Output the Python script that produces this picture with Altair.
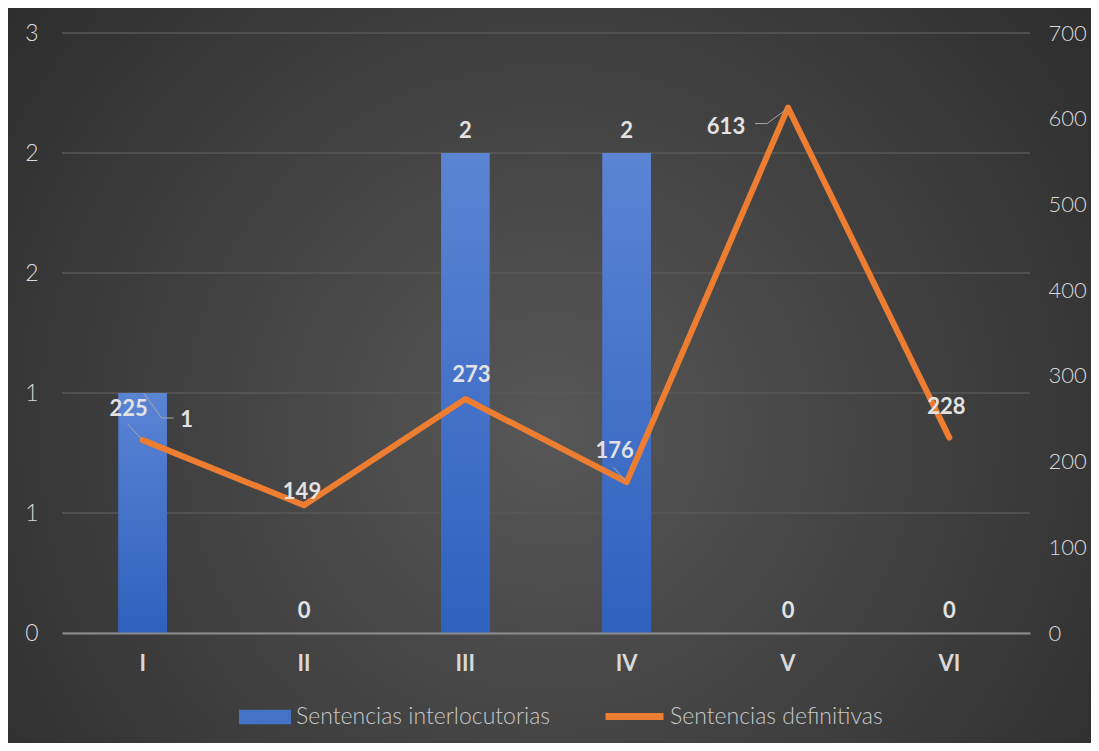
import altair as alt
import pandas as pd

categories = ["I", "II", "III", "IV", "V", "VI"]
interlocutorias = [1, 0, 2, 2, 0, 0]
definitivas = [225, 149, 273, 176, 613, 228]
left_ticks = [0, 0.5, 1, 1.5, 2, 2.5]
right_ticks = [0, 100, 200, 300, 400, 500, 600, 700]
series_names = ["Sentencias interlocutorias", "Sentencias definitivas"]

df = pd.DataFrame({"cat": categories, "bar": interlocutorias, "line": definitivas})
grid_df = pd.DataFrame({"t": left_ticks})

# label placement offsets in pixels (style, not data)
line_label_offsets = {"I": (-14, -24), "II": (-2, -6), "III": (6, -17),
                      "IV": (-12, -24), "V": (-62, 26), "VI": (-3, -24)}
# leader-line segments: (category, series, x1, y1, x2, y2) pixel offsets from the point
leaders = [("I", "line", -15, -16, -1, -1),
           ("IV", "line", -13, -15, -1, -1),
           ("V", "line", -33, 16, -21, 16),
           ("V", "line", -21, 16, -2, 2),
           ("I", "bar", 1, 0, 19, 25),
           ("I", "bar", 19, 25, 31, 25)]

W, H = 968, 600
FONT = "Lato"
BLUE = "#4472C4"
ORANGE = "#ED7D31"
LABEL = "#e2e2e2"
AXLAB = "#d9d9d9"

x_axis = alt.Axis(labelAngle=0, labelFont=FONT, labelFontSize=22,
                  labelFontWeight="bold", labelColor=AXLAB,
                  labelPadding=20, ticks=False, domainColor="#8c8c8c",
                  domainWidth=2, grid=False, zindex=1)
x_scale = alt.Scale(paddingInner=0.7, paddingOuter=0.35)
x_enc = alt.X("cat:N", sort=categories, title=None, scale=x_scale, axis=x_axis)

yb_scale = alt.Scale(domain=[0, 2.5], nice=False)
yb_axis = alt.Axis(orient="left", values=left_ticks,
                   labelExpr="round(datum.value)", grid=False,
                   ticks=False, domain=False, labelFont=FONT,
                   labelFontSize=23, labelFontWeight=300, labelColor=AXLAB,
                   labelPadding=24, title=None, zindex=1)
yb = alt.Y("bar:Q", title=None, scale=yb_scale, axis=yb_axis)

yl_scale = alt.Scale(domain=[0, 700], nice=False)
yl_axis = alt.Axis(orient="right", values=right_ticks, grid=False,
                   ticks=False, domain=False, labelFont=FONT,
                   labelFontSize=22, labelFontWeight=300, labelColor=AXLAB,
                   labelPadding=18, title=None, zindex=1)
yl = alt.Y("line:Q", title=None, scale=yl_scale, axis=yl_axis)

bg = alt.Chart(alt.Data(values=[{"k": 1}])).mark_rect(
    fill=alt.RadialGradient(
        gradient="radial",
        stops=[alt.GradientStop(color="#575757", offset=0),
               alt.GradientStop(color="#3c3c3c", offset=0.55),
               alt.GradientStop(color="#262626", offset=1)],
        x1=0.5, y1=0.55, r1=0, x2=0.5, y2=0.55, r2=0.75)
).encode(x=alt.value(-54), x2=alt.value(W + 61), y=alt.value(-25), y2=alt.value(H + 110))

grid = alt.Chart(grid_df).mark_rule(color="#585858", strokeWidth=1.5).encode(
    y=alt.Y("t:Q", scale=yb_scale, axis=None))

base = alt.Chart(df)

bar_solid = base.transform_calculate(sb="'" + series_names[0] + "'").mark_bar().encode(
    x=x_enc, y=yb,
    fill=alt.Fill("sb:N", scale=alt.Scale(domain=[series_names[0]], range=[BLUE]),
                  legend=alt.Legend(title=None, orient="none", legendX=177, legendY=658,
                                    symbolType="M-1,-0.28L1,-0.28L1,0.28L-1,0.28Z",
                                    symbolSize=2704, symbolStrokeWidth=0,
                                    labelFont=FONT, labelFontSize=23, labelFontWeight=300,
                                    labelLimit=500, labelColor="#c8c8c8", labelOffset=5)))

bar_grad = base.mark_bar(fill=alt.LinearGradient(
    gradient="linear",
    stops=[alt.GradientStop(color="#5b84d3", offset=0),
           alt.GradientStop(color="#2f61bf", offset=1)],
    x1=0, x2=0, y1=0, y2=1)).encode(x=x_enc, y=yb)

bar_text_main = base.transform_filter(alt.datum.cat != "I").mark_text(
    font=FONT, fontSize=22, fontWeight="bold", color=LABEL, baseline="alphabetic",
    dy=-15).encode(x=x_enc, y=yb, text=alt.Text("bar:Q"))
bar_text_first = base.transform_filter(alt.datum.cat == "I").mark_text(
    font=FONT, fontSize=22, fontWeight="bold", color=LABEL, baseline="alphabetic",
    dx=44, dy=34).encode(x=x_enc, y=yb, text=alt.Text("bar:Q"))

def leader_layers(series):
    out = []
    field = "bar" if series == "bar" else "line"
    scale = yb_scale if series == "bar" else yl_scale
    axis = yb_axis if series == "bar" else yl_axis
    for cat, s, ax1, ay1, ax2, ay2 in leaders:
        if s != series:
            continue
        out.append(base.transform_filter(alt.datum.cat == cat).mark_rule(
            color="#a6a6a6", strokeWidth=1,
            xOffset=ax1, yOffset=ay1, x2Offset=ax2, y2Offset=ay2).encode(
            x=alt.X("cat:N", sort=categories, title=None, scale=x_scale, axis=x_axis,
                    bandPosition=0.5),
            x2=alt.X2("cat", bandPosition=0.5),
            y=alt.Y(field + ":Q", title=None, scale=scale, axis=axis),
            y2=alt.Y2(field)))
    return out

bars = alt.layer(bar_solid, bar_grad, bar_text_main, bar_text_first, *leader_layers("bar"))

line = base.transform_calculate(sl="'" + series_names[1] + "'").mark_line(
    strokeWidth=6, strokeCap="round", strokeJoin="round").encode(
    x=x_enc, y=yl,
    stroke=alt.Stroke("sl:N", scale=alt.Scale(domain=[series_names[1]], range=[ORANGE]),
                      legend=alt.Legend(title=None, orient="none", legendX=540, legendY=651,
                                        symbolType="stroke", symbolSize=3364,
                                        symbolStrokeWidth=7, labelLimit=500,
                                        labelFont=FONT, labelFontSize=23, labelFontWeight=300,
                                        labelColor="#c8c8c8", labelOffset=3)))

line_texts = []
for c in categories:
    dx, dy = line_label_offsets[c]
    line_texts.append(base.transform_filter(alt.datum.cat == c).mark_text(
        font=FONT, fontSize=22, fontWeight="bold", color=LABEL, baseline="alphabetic",
        dx=dx, dy=dy).encode(x=x_enc, y=yl, text=alt.Text("line:Q")))

lines = alt.layer(line, *leader_layers("line"), *line_texts)

chart = alt.layer(bg, grid, bars, lines).resolve_scale(y="independent").properties(
    width=W, height=H, padding=0
).configure(background="#2e2e2e").configure_view(stroke=None)

chart.save("out.html", embed_options={"renderer": "svg", "actions": False})
